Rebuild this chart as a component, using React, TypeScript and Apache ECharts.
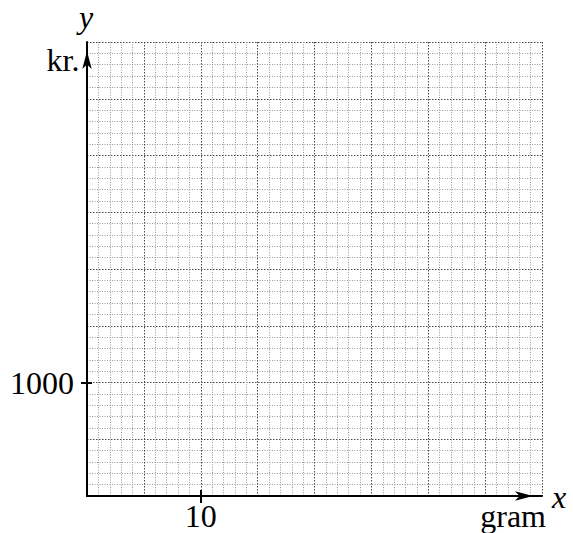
import React, { useEffect, useRef } from "react";
import * as echarts from "echarts";

// Axis ranges and grid spacing (data units)
const xRange = [0, 40];
const yRange = [0, 4000];
const xMajorStep = 5;
const yMajorStep = 500;
const minorPerMajor = 5;

// Labelled tick values
const xTickValues = [10];
const yTickValues = [1000];

// Axis names and units
const xName = "x";
const yName = "y";
const xUnit = "gram";
const yUnit = "kr.";

const FONT = "Liberation Serif";
const FS = 32;

export default function App() {
  const ref = useRef<HTMLDivElement>(null);

  useEffect(() => {
    if (!ref.current) return;
    const chart = echarts.init(ref.current, undefined, { renderer: "svg" });

    const minorLine = { show: true, lineStyle: { color: "#999999", width: 1, type: [1, 1.5] } };
    const majorLine = { show: true, lineStyle: { color: "#4a4a4a", width: 1, type: [1.5, 1.5] } };
    const labelStyle = { color: "#000", fontFamily: FONT, fontSize: FS };
    const tickStyle = { color: "#000", width: 2 };
    const axisLine = {
      show: true,
      lineStyle: { color: "#000", width: 2 },
      symbol: ["none", "arrow"],
      symbolSize: [7, 18],
      symbolOffset: [0, -9],
    };

    const xBase = { type: "value", min: xRange[0], max: xRange[1], interval: xMajorStep, position: "bottom" };
    const yBase = { type: "value", min: yRange[0], max: yRange[1], interval: yMajorStep, position: "left" };
    const hidden = { axisLine: { show: false }, axisLabel: { show: false }, splitLine: { show: false } };

    chart.setOption({
      animation: false,
      grid: { left: 87, top: 42, width: 455, height: 454, containLabel: false },
      xAxis: [
        {
          ...xBase,
          axisLine,
          axisTick: { show: false },
          axisLabel: { show: true, customValues: xTickValues, margin: 8, lineHeight: 24, formatter: (v: number) => String(v), ...labelStyle },
          splitLine: majorLine,
          minorTick: { show: false, splitNumber: minorPerMajor },
          minorSplitLine: minorLine,
        },
        { ...xBase, ...hidden, axisTick: { show: true, inside: false, length: 7, customValues: xTickValues, lineStyle: tickStyle } },
        { ...xBase, ...hidden, axisTick: { show: true, inside: true, length: 6, customValues: xTickValues, lineStyle: tickStyle } },
      ],
      yAxis: [
        {
          ...yBase,
          axisLine,
          axisTick: { show: false },
          axisLabel: { show: true, customValues: yTickValues, margin: 13, formatter: (v: number) => String(v), ...labelStyle },
          splitLine: majorLine,
          minorTick: { show: false, splitNumber: minorPerMajor },
          minorSplitLine: minorLine,
        },
        { ...yBase, ...hidden, axisTick: { show: true, inside: false, length: 6, customValues: yTickValues, lineStyle: tickStyle } },
        { ...yBase, ...hidden, axisTick: { show: true, inside: true, length: 5, customValues: yTickValues, lineStyle: tickStyle } },
      ],
      graphic: [
        { type: "text", x: 86, y: 17, style: { text: yName, textAlign: "center", textVerticalAlign: "middle", fill: "#000", fontFamily: FONT, fontSize: FS, fontStyle: "italic" } },
        { type: "text", x: 79.5, y: 59.5, style: { text: yUnit, textAlign: "right", textVerticalAlign: "middle", fill: "#000", fontFamily: FONT, fontSize: FS } },
        { type: "text", x: 552, y: 496.5, style: { text: xName, textAlign: "left", textVerticalAlign: "middle", fill: "#000", fontFamily: FONT, fontSize: FS, fontStyle: "italic" } },
        { type: "text", x: 546, y: 515.5, style: { text: xUnit, textAlign: "right", textVerticalAlign: "middle", fill: "#000", fontFamily: FONT, fontSize: FS } },
      ],
      series: [{ type: "line", data: [], xAxisIndex: 0, yAxisIndex: 0 }],
    });

    return () => chart.dispose();
  }, []);

  return (
    <div
      ref={ref}
      style={{ position: "absolute", left: 0, top: 0, width: 573, height: 533 }}
    />
  );
}
